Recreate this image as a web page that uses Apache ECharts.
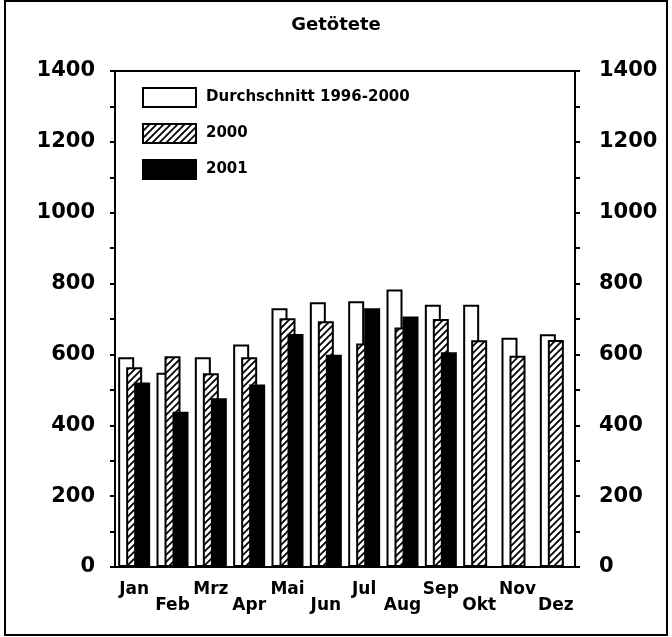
<!DOCTYPE html>
<html>
<head>
<meta charset="utf-8">
<script src="https://cdn.jsdelivr.net/npm/echarts@6/dist/echarts.min.js"></script>
<style>
html,body{margin:0;padding:0;background:#fff;}
#wrap{position:relative;width:672px;height:637px;}
#chart{position:absolute;left:0;top:0;width:672px;height:637px;}
#frame{position:absolute;left:4px;top:0px;width:660px;height:632px;border:2px solid #000;pointer-events:none;}
</style>
</head>
<body>
<div id="wrap"><div id="chart"></div><div id="frame"></div></div>
<script>
const title = 'Getötete';
const months = ['Jan','Feb','Mrz','Apr','Mai','Jun','Jul','Aug','Sep','Okt','Nov','Dez'];
const seriesNames = ['Durchschnitt 1996-2000','2000','2001'];
const avg9600 = [592,548,592,628,730,747,750,783,740,740,647,657];
const y2000   = [564,595,547,592,702,694,631,676,700,640,596,641];
const y2001   = [521,438,476,515,658,599,730,707,606,null,null,null];
const yTicks = [0,200,400,600,800,1000,1200,1400];

function hatch(){
  const c = document.createElement('canvas');
  const w = 7, h = 7;
  c.width = w; c.height = h;
  const g = c.getContext('2d');
  g.fillStyle = '#fff'; g.fillRect(0,0,w,h);
  g.strokeStyle = '#000'; g.lineWidth = 1.8;
  g.beginPath();
  g.moveTo(-1,h+1); g.lineTo(w+1,-1);
  g.moveTo(-2,2); g.lineTo(2,-2);
  g.moveTo(w-2,h+2); g.lineTo(w+2,h-2);
  g.stroke();
  return c;
}

const chart = echarts.init(document.getElementById('chart'), null, {renderer:'canvas'});
const FONT = 'DejaVu Sans';
const yAxisBase = {
  type:'value', min:yTicks[0], max:yTicks[yTicks.length-1], interval:200,
  axisLine:{show:true, lineStyle:{color:'#000', width:2}},
  axisTick:{show:true, inside:false, length:5, lineStyle:{color:'#000', width:2}},
  minorTick:{show:true, splitNumber:2, length:5, lineStyle:{color:'#000', width:2}},
  splitLine:{show:false},
  axisLabel:{color:'#000', fontFamily:FONT, fontWeight:'bold', fontSize:21, formatter:function(v){return String(v);}}
};
const option = {
  backgroundColor:'#fff',
  animation:false,
  title:{text:title, left:'center', top:11, textStyle:{fontFamily:FONT, fontWeight:'bold', fontSize:18, color:'#000'}},
  legend:{
    orient:'vertical', left:137, top:82, itemWidth:53, itemHeight:19, itemGap:15,
    icon:'rect',
    data:seriesNames,
    textStyle:{fontFamily:FONT, fontWeight:'bold', fontSize:15, color:'#000', padding:[0,0,0,5]}
  },
  grid:{left:115, right:97, top:71, bottom:70, show:true, borderColor:'#000', borderWidth:2, backgroundColor:'transparent'},
  xAxis:{
    type:'category', data:months,
    axisLine:{show:true, lineStyle:{color:'#000', width:2}},
    axisTick:{show:false},
    axisLabel:{
      color:'#000', fontFamily:FONT, fontWeight:'bold', fontSize:17, lineHeight:16, margin:15,
      interval:0,
      formatter:function(v, i){ return i % 2 === 1 ? '\n' + v : v; }
    }
  },
  yAxis:[
    Object.assign({}, yAxisBase, {position:'left', axisLabel:Object.assign({}, yAxisBase.axisLabel, {margin:20})}),
    Object.assign({}, yAxisBase, {position:'right', axisLabel:Object.assign({}, yAxisBase.axisLabel, {margin:24})})
  ],
  series:[
    {name:seriesNames[0], type:'bar', data:avg9600, barWidth:16, barGap:'-50%',
     itemStyle:{color:'#fff', borderColor:'#000', borderWidth:2}},
    {name:seriesNames[1], type:'bar', data:y2000, barWidth:16, barGap:'-50%',
     itemStyle:{color:{image:hatch(), repeat:'repeat'}, borderColor:'#000', borderWidth:2}},
    {name:seriesNames[2], type:'bar', data:y2001, barWidth:16, barGap:'-50%',
     itemStyle:{color:'#000', borderColor:'#000', borderWidth:2}}
  ]
};
chart.setOption(option);
</script>
</body>
</html>
